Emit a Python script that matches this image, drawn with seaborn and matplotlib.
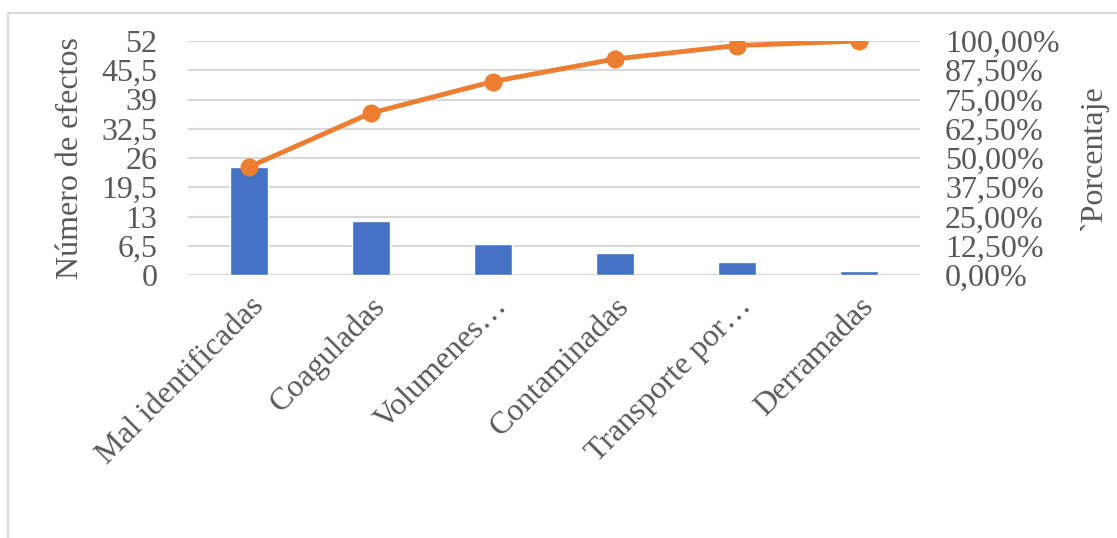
import numpy as np
import matplotlib
matplotlib.use("Agg")
import matplotlib.pyplot as plt
import seaborn as sns
from matplotlib.ticker import FixedLocator, FuncFormatter
from matplotlib.lines import Line2D

# data
categories = ["Mal identificadas", "Coaguladas", "Volumenes…", "Contaminadas",
              "Transporte por…", "Derramadas"]
counts = [24, 12, 7, 5, 3, 1]
left_ticks = [0, 6.5, 13, 19.5, 26, 32.5, 39, 45.5, 52]
right_ticks = [0, 0.125, 0.25, 0.375, 0.5, 0.625, 0.75, 0.875, 1.0]

cum_pct = np.cumsum(counts) / np.sum(counts)

sns.set_style("white")
plt.rcParams["font.family"] = ["Liberation Serif", "DejaVu Serif"]
text_col = "#595959"
grid_col = "#D9D9D9"
fs = 23

fig = plt.figure(figsize=(11.17, 5.38), dpi=100)
ax = fig.add_axes([188 / 1117, 1 - 275 / 538, (920 - 188) / 1117, (275 - 41) / 538])

sns.barplot(x=categories, y=counts, color="#4472C4", width=0.31, saturation=1,
            ax=ax, zorder=2)
ax.set_ylim(0, 52)
ax.set_xlim(-0.5, len(categories) - 0.5)
ax.yaxis.set_major_locator(FixedLocator(left_ticks))
ax.yaxis.set_major_formatter(FuncFormatter(lambda v, p: f"{v:g}".replace(".", ",")))
ax.grid(axis="y", color=grid_col, linewidth=1.5, zorder=0)
ax.set_axisbelow(True)
for s in ax.spines.values():
    s.set_visible(False)
ax.tick_params(axis="both", length=0, labelsize=fs, colors=text_col)
ax.tick_params(axis="y", pad=22)
ax.tick_params(axis="x", pad=12)
ax.set_xlabel("")
ax.set_ylabel("Número de efectos", fontsize=fs, color=text_col, labelpad=12)
plt.setp(ax.get_xticklabels(), rotation=45, ha="right", rotation_mode="anchor")

ax2 = ax.twinx()
sns.lineplot(x=np.arange(len(categories)), y=cum_pct, ax=ax2, color="#ED7D31",
             linewidth=3.5, marker="o", markersize=13, markeredgewidth=0)
ax2.set_ylim(0, 1)
ax2.yaxis.set_major_locator(FixedLocator(right_ticks))
ax2.yaxis.set_major_formatter(FuncFormatter(lambda v, p: f"{v * 100:.2f}%".replace(".", ",")))
for s in ax2.spines.values():
    s.set_visible(False)
ax2.tick_params(axis="y", length=0, labelsize=fs, colors=text_col, pad=18)
ax2.set_ylabel("`Porcentaje", fontsize=fs, color=text_col, labelpad=14)

# outer chart frame (top and left edges visible)
fig.add_artist(Line2D([8 / 1117, 1], [1 - 13 / 538, 1 - 13 / 538],
                      transform=fig.transFigure, color=grid_col, linewidth=1.5))
fig.add_artist(Line2D([8 / 1117, 8 / 1117], [0, 1 - 13 / 538],
                      transform=fig.transFigure, color=grid_col, linewidth=1.5))

fig.savefig("out.png", dpi=100)
